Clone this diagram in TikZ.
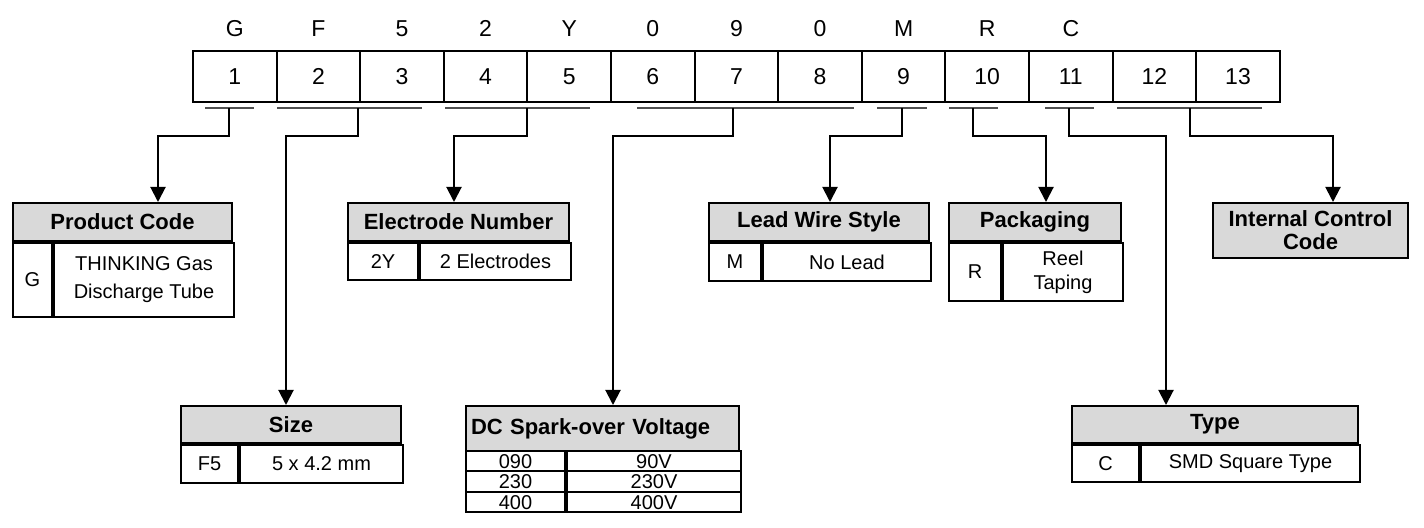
\documentclass[tikz,border=0pt]{standalone}
\usepackage{fontspec}
\setmainfont{Liberation Sans}
\usetikzlibrary{arrows.meta, positioning, calc}
\definecolor{colHdr}{RGB}{217, 217, 217}
\definecolor{colLine}{RGB}{80, 80, 80}

\tikzset{
    hdr/.style={draw, line width=1pt, fill=colHdr, anchor=north west, inner sep=0pt,
        align=center, font=\bfseries\fontsize{11}{11.5}\selectfont},
    cell/.style={draw, line width=1pt, anchor=north west, inner sep=0pt,
        align=center, font=\fontsize{10}{12}\selectfont},
    digit/.style={font=\fontsize{11.5}{13}\selectfont, text height=8.3pt, text depth=0pt},
    conn/.style={line width=1pt, -{Triangle[width=7.5pt, length=7.5pt]}},
    uline/.style={colLine, line width=0.8pt}
}

\begin{document}
\begin{tikzpicture}[x=0.5pt, y=-0.5pt]
    \useasboundingbox (0,0) rectangle (1424,528);

    % --- Baris kode (13 digit) ---
    \foreach \i in {1,...,13}
        \node[cell, digit, anchor=center, minimum width=41.8pt, minimum height=25.5pt]
            (c\i) at ({193+83.6*(\i-0.5)}, 76.5) {\i};
    % Huruf di atas kotak
    \foreach \ch [count=\i] in {G,F,5,2,Y,0,9,0,M,R,C}
        \node[digit, inner sep=0pt] (l\i) at ([yshift=24.25pt]c\i.center) {\ch};

    % --- Garis bawah kelompok ---
    \foreach \a/\b/\m [count=\i] in {205/254/229, 277/422/358, 445/590/527, 637/854/733,
                                      877/927/902, 949/998/973, 1045/1094/1069, 1117/1262/1190} {
        \draw[uline] (\a,108) -- (\b,108);
        \coordinate (g\i) at (\m,108);
    }

    % --- Product Code ---
    \node[hdr, minimum width=109.5pt, minimum height=19pt] (pc) at (12,202) {Product Code};
    \node[cell, minimum width=19.5pt, minimum height=37pt] (pcK) at (pc.south west) {G};
    \node[cell, minimum width=90pt, minimum height=37pt, font=\fontsize{10}{14}\selectfont]
        (pcV) at (pcK.north east) {THINKING Gas\\Discharge Tube};

    % --- Electrode Number ---
    \node[hdr, minimum width=110.5pt, minimum height=19pt] (en) at (347,202) {Electrode Number};
    \node[cell, minimum width=35pt, minimum height=18.5pt] (enK) at (en.south west) {2Y};
    \node[cell, minimum width=75.5pt, minimum height=18.5pt] (enV) at (enK.north east) {2 Electrodes};

    % --- Lead Wire Style ---
    \node[hdr, minimum width=110pt, minimum height=19pt] (lw) at (708,202) {Lead Wire Style};
    \node[cell, minimum width=26pt, minimum height=19pt] (lwK) at (lw.south west) {M};
    \node[cell, minimum width=84pt, minimum height=19pt] (lwV) at (lwK.north east) {No Lead};

    % --- Packaging ---
    \node[hdr, minimum width=86pt, minimum height=19pt] (pk) at (948,202) {Packaging};
    \node[cell, minimum width=26pt, minimum height=29pt] (pkK) at (pk.south west) {R};
    \node[cell, minimum width=60pt, minimum height=29pt] (pkV) at (pkK.north east) {Reel\\Taping};

    % --- Internal Control Code ---
    \node[hdr, minimum width=97.5pt, minimum height=27.5pt] (ic) at (1212,202) {Internal Control\\Code};

    % --- Size ---
    \node[hdr, minimum width=110pt, minimum height=18.5pt] (sz) at (180,405) {Size};
    \node[cell, minimum width=28.5pt, minimum height=19pt] (szK) at (sz.south west) {F5};
    \node[cell, minimum width=81.5pt, minimum height=19pt] (szV) at (szK.north east) {5 x 4.2 mm};

    % --- DC Spark-over Voltage ---
    \node[hdr, minimum width=136.5pt, minimum height=22.5pt, align=left,
        text width=131.5pt, inner xsep=2.5pt] (dc) at (465,405) {DC Spark-over Voltage};
    \foreach \k/\v [count=\r] in {090/90V, 230/230V, 400/400V} {
        \node[cell, minimum width=49.5pt, minimum height=10.25pt] (dcK\r) at (465,{450+20.5*(\r-1)}) {\k};
        \node[cell, minimum width=87pt, minimum height=10.25pt] (dcV\r) at (dcK\r.north east) {\v};
    }

    % --- Type ---
    \node[hdr, minimum width=143pt, minimum height=18.5pt] (ty) at (1071,405) {Type};
    \node[cell, minimum width=33.5pt, minimum height=18.5pt] (tyK) at (ty.south west) {C};
    \node[cell, minimum width=109.5pt, minimum height=18.5pt] (tyV) at (tyK.north east) {SMD Square Type};

    % --- Panah penghubung ---
    \draw[conn] (g1) -- ++(0,28) -| (158,0 |- pc.north);
    \draw[conn] (g2) -- ++(0,28) -| (286,0 |- sz.north);
    \draw[conn] (g3) -- ++(0,28) -| (454,0 |- en.north);
    \draw[conn] (g4) -- ++(0,28) -| (613,0 |- dc.north);
    \draw[conn] (g5) -- ++(0,28) -| (830,0 |- lw.north);
    \draw[conn] (g6) -- ++(0,28) -| (1046,0 |- pk.north);
    \draw[conn] (g7) -- ++(0,28) -| (1166,0 |- ty.north);
    \draw[conn] (g8) -- ++(0,28) -| (1333,0 |- ic.north);
\end{tikzpicture}
\end{document}
